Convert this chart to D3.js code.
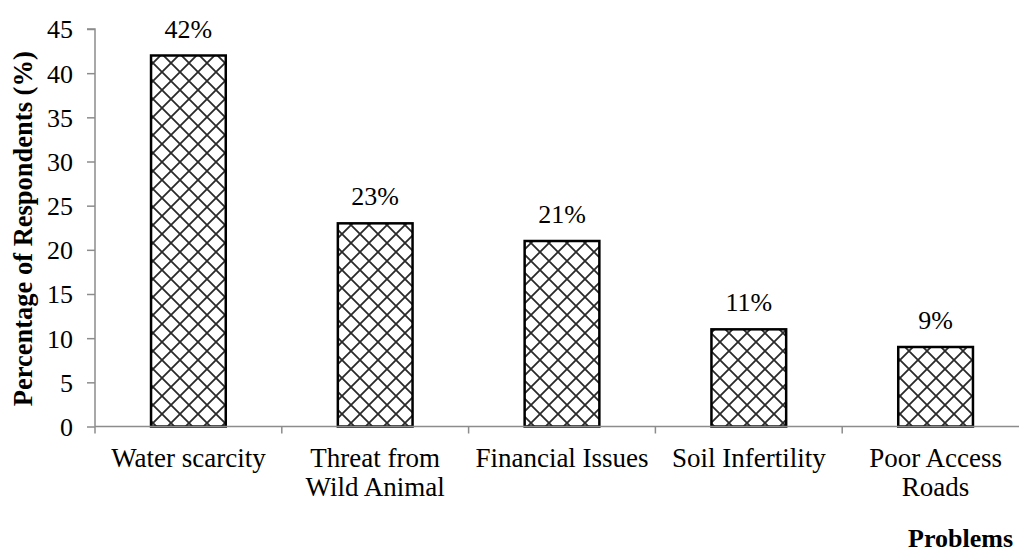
<!DOCTYPE html>
<html>
<head>
<meta charset="utf-8">
<script src="https://cdn.jsdelivr.net/npm/d3@7"></script>
<style>
  html, body { margin: 0; padding: 0; background: #fff; }
  svg { display: block; }
  text { font-family: "Liberation Serif", "Times New Roman", serif; fill: #000; }
</style>
</head>
<body>
<svg id="chart" width="1019" height="553"></svg>
<script>
// Problems reported by respondents (% of respondents)
const categories = [
  ["Water scarcity"],
  ["Threat from", "Wild Animal"],
  ["Financial Issues"],
  ["Soil Infertility"],
  ["Poor Access", "Roads"]
];
const values = [42, 23, 21, 11, 9];
const yTicks = [0, 5, 10, 15, 20, 25, 30, 35, 40, 45];

const svg = d3.select("#chart");
const margin = { left: 95, top: 29, bottom: 426.5 };
const bandStep = 186.8;
const fontSize = 26;

const keys = categories.map((c, i) => i);
const x = d3.scaleBand()
  .domain(keys)
  .range([margin.left, margin.left + bandStep * keys.length])
  .paddingInner(0.6)
  .paddingOuter(0.3);

const y = d3.scaleLinear().domain([0, 45]).range([margin.bottom, margin.top]);

// diagonal cross-hatch fill
const defs = svg.append("defs");
const pat = defs.append("pattern")
  .attr("id", "hatch")
  .attr("patternUnits", "userSpaceOnUse")
  .attr("width", 18).attr("height", 18);
pat.append("rect").attr("width", 18).attr("height", 18).attr("fill", "#fff");
pat.append("path")
  .attr("d", "M0,0 L18,18 M18,0 L0,18 M-9,9 L9,-9 M9,27 L27,9 M-9,9 L9,27 M9,-9 L27,9")
  .attr("stroke", "#2a2a2a").attr("stroke-width", 1.8).attr("fill", "none");

// bars
svg.append("g").selectAll("rect")
  .data(values)
  .join("rect")
  .attr("x", (d, i) => x(i))
  .attr("y", d => y(d))
  .attr("width", x.bandwidth())
  .attr("height", d => y(0) - y(d))
  .attr("fill", "url(#hatch)")
  .attr("stroke", "#000")
  .attr("stroke-width", 2.5);

// value labels
svg.append("g").selectAll("text")
  .data(values)
  .join("text")
  .attr("x", (d, i) => x(i) + x.bandwidth() / 2)
  .attr("y", d => y(d) - 18)
  .attr("text-anchor", "middle")
  .attr("font-size", fontSize)
  .text(d => d + "%");

// y axis
const yAxis = svg.append("g")
  .attr("transform", `translate(${margin.left},0)`)
  .call(d3.axisLeft(y).tickValues(yTicks).tickSize(8).tickPadding(14));
yAxis.attr("font-family", null).attr("font-size", null);
yAxis.selectAll("text").attr("font-size", fontSize).attr("dy", "0.34em");
yAxis.selectAll("line, path").attr("stroke", "#8c8c8c").attr("stroke-width", 1.5);
yAxis.select(".domain").attr("d", `M-8,${y(45)}H0V${y(0)}`);

// x axis with ticks at band boundaries
const xg = svg.append("g").attr("transform", `translate(0,${y(0)})`);
xg.append("line")
  .attr("x1", margin.left).attr("x2", margin.left + bandStep * keys.length)
  .attr("stroke", "#8c8c8c").attr("stroke-width", 1.5);
xg.selectAll("line.tick")
  .data(d3.range(keys.length + 1))
  .join("line")
  .attr("class", "tick")
  .attr("x1", i => margin.left + i * bandStep)
  .attr("x2", i => margin.left + i * bandStep)
  .attr("y1", 0).attr("y2", 7)
  .attr("stroke", "#8c8c8c").attr("stroke-width", 1.5);

const lbl = xg.selectAll("text.cat")
  .data(categories)
  .join("text")
  .attr("class", "cat")
  .attr("text-anchor", "middle")
  .attr("font-size", 27)
  .attr("transform", (d, i) => `translate(${x(i) + x.bandwidth() / 2},0)`);
lbl.selectAll("tspan")
  .data(d => d)
  .join("tspan")
  .attr("x", 0)
  .attr("y", (d, j) => 40 + j * 29)
  .text(d => d);

// axis titles
svg.append("text")
  .attr("transform", `translate(32,${(y(0) + y(45)) / 2 + 1}) rotate(-90)`)
  .attr("text-anchor", "middle")
  .attr("font-size", 26.5)
  .attr("font-weight", "bold")
  .text("Percentage of Respondents (%)");

svg.append("text")
  .attr("x", 1013)
  .attr("y", 547)
  .attr("text-anchor", "end")
  .attr("font-size", fontSize)
  .attr("font-weight", "bold")
  .text("Problems");
</script>
</body>
</html>
